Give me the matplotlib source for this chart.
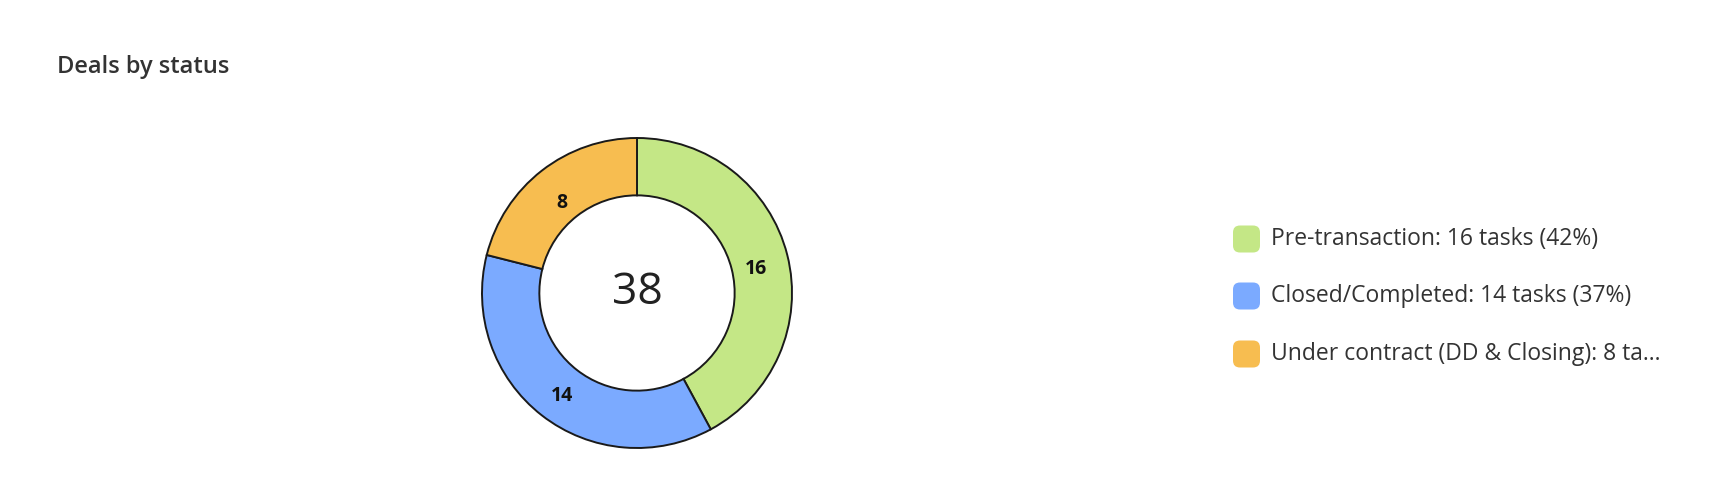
import matplotlib.pyplot as plt
import numpy as np
from matplotlib.patches import FancyBboxPatch

statuses = ["Pre-transaction", "Closed/Completed", "Under contract (DD & Closing)"]
counts = [16, 14, 8]
legend_labels = ["Pre-transaction: 16 tasks (42%)",
                 "Closed/Completed: 14 tasks (37%)",
                 "Under contract (DD & Closing): 8 ta..."]
colors = ["#c4e786", "#7baaff", "#f7bd50"]

plt.rcParams['font.family'] = ['Open Sans', 'DejaVu Sans']

W, H = 1733, 503
fig = plt.figure(figsize=(W / 100, H / 100), dpi=100)

# donut: center (637, 293) px, outer radius 155 px
cx, cy, r = 637, 293, 155
half = 165
ax = fig.add_axes([(cx - half) / W, (H - cy - half) / H, 2 * half / W, 2 * half / H])
wedges, _ = ax.pie(counts, colors=colors, startangle=90, counterclock=False,
                   radius=1, wedgeprops=dict(width=0.37, edgecolor="#1a1a1a", linewidth=1.4))
ax.set_xlim(-half / r, half / r)
ax.set_ylim(-half / r, half / r)
ax.set_aspect("equal")
ax.axis("off")

# value labels inside the ring
total = sum(counts)
start = 90.0
for c in counts:
    span = c / total * 360
    mid = np.deg2rad(start - span / 2)
    ax.text(0.79 * np.cos(mid), 0.79 * np.sin(mid) - 0.04, str(c), ha="center", va="center",
            fontsize=14, fontweight="bold", color="#111111")
    start -= span

ax.text(0, 0, str(total), ha="center", va="center", fontsize=32, color="#222222")

fig.text(57 / W, 1 - 67 / H, "Deals by status", ha="left", va="center",
         fontsize=17, fontweight="semibold", color="#333333")

# legend
rows_y = [239, 296, 354]
sq = 27
for lab, col, y in zip(legend_labels, colors, rows_y):
    fig.patches.append(FancyBboxPatch((1233 / W, (H - y - sq / 2) / H), sq / W, sq / H,
                                      boxstyle="round,pad=0,rounding_size=0.004",
                                      transform=fig.transFigure, facecolor=col,
                                      edgecolor="none", mutation_aspect=W / H))
    fig.text(1271 / W, 1 - y / H, lab, ha="left", va="center", fontsize=16.5, color="#333333")

fig.savefig("out.png", dpi=100, facecolor="white")
